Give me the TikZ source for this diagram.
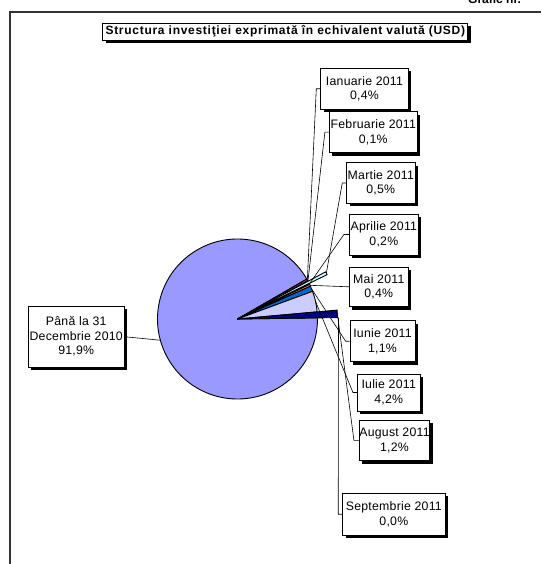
\documentclass[tikz,border=0pt]{standalone}
\usepackage{fontspec}
\setmainfont{Liberation Sans}
\usetikzlibrary{shadows,calc}
\definecolor{cbig}{HTML}{9999FF}
\definecolor{cian}{HTML}{993366}
\definecolor{cfeb}{HTML}{FFFFCC}
\definecolor{cmar}{HTML}{CCFFFF}
\definecolor{capr}{HTML}{660066}
\definecolor{cmai}{HTML}{FF8080}
\definecolor{ciun}{HTML}{0066CC}
\definecolor{ciul}{HTML}{CCCCFF}
\definecolor{caug}{HTML}{000080}
\definecolor{frame}{HTML}{333333}
\tikzset{
  lbl/.style={draw=black, line width=0.8pt, fill=white, inner sep=0pt, align=center,
    font=\fontsize{12.3}{14.5}\selectfont\addfontfeature{LetterSpace=2},
    drop shadow={fill=black, opacity=1, shadow xshift=3pt, shadow yshift=-3pt}},
  leader/.style={draw=black, line width=0.6pt},
  wedge/.style={draw=black, line width=0.9pt, line join=round}
}
\newcommand{\pieslice}[4]{%
  \filldraw[wedge, fill=#4] (c) -- ++(-#1:#3) arc[start angle=-#1, end angle=-#2, radius=#3] -- cycle;}
\begin{document}
\begin{tikzpicture}[x=1pt,y=-1pt]
\useasboundingbox (0,0) rectangle (541,564);
\fill[white] (0,0) rectangle (541,564);
% frame
\draw[frame, line width=1.3pt] (541,12) -- (10,12) -- (10,564);
\node[anchor=base west, font=\bfseries\fontsize{12}{14}\selectfont, inner sep=0pt] (gr) at (468,4) {Grafic nr.};
% title
\node[lbl, font=\bfseries\fontsize{12}{13}\selectfont\addfontfeature{LetterSpace=6}, minimum width=365pt, minimum height=17pt] (title) at (285.3,31.7) {Structura investiţiei exprimată în echivalent valută (USD)};
% pie
\coordinate (c) at (237.5,319);
\pieslice{29.96}{360.8}{80}{cbig}
\pieslice{28.52}{29.96}{80}{cian}
\pieslice{28.16}{28.52}{80}{cfeb}
\pieslice{26.36}{28.16}{100}{cmar}
\pieslice{25.64}{26.36}{80}{capr}
\pieslice{24.2}{25.64}{80}{cmai}
\pieslice{20.24}{24.2}{80}{ciun}
\pieslice{5.12}{20.24}{80}{ciul}
\pieslice{0.8}{5.12}{100}{caug}
% leader end points
\coordinate (pBig) at ($(c)+(-195.4:80)$);
\coordinate (pIan) at ($(c)+(-29.2:80)$);
\coordinate (pFeb) at ($(c)+(-28.3:80)$);
\coordinate (pMar) at ($(c)+(-27.3:100)$);
\coordinate (pApr) at ($(c)+(-26:80)$);
\coordinate (pMai) at ($(c)+(-24.9:80)$);
\coordinate (pIun) at ($(c)+(-22.2:80)$);
\coordinate (pIul) at ($(c)+(-12.7:80)$);
\coordinate (pAug) at ($(c)+(-3:100)$);
\coordinate (pSep) at ($(c)+(-0.8:101)$);
% labels
\node[lbl, minimum width=95.7pt, minimum height=61.3pt] (big) at (76.2,336.7) {Până la 31\\Decembrie 2010\\91,9\%};
\node[lbl, minimum width=87.6pt, minimum height=41pt] (ian) at (364.5,88.8) {Ianuarie 2011\\0,4\%};
\node[lbl, minimum width=88pt, minimum height=41pt] (feb) at (373.3,132.2) {Februarie 2011\\0,1\%};
\node[lbl, minimum width=68.3pt, minimum height=40.6pt] (mar) at (380.8,183) {Martie 2011\\0,5\%};
\node[lbl, minimum width=69pt, minimum height=41pt] (apr) at (383.8,234.5) {Aprilie 2011\\0,2\%};
\node[lbl, minimum width=59pt, minimum height=39.7pt] (mai) at (378.8,286.8) {Mai 2011\\0,4\%};
\node[lbl, minimum width=65pt, minimum height=41pt] (iun) at (382.5,341.2) {Iunie 2011\\1,1\%};
\node[lbl, minimum width=62.7pt, minimum height=37pt] (iul) at (388.7,392.5) {Iulie 2011\\4,2\%};
\node[lbl, minimum width=67.6pt, minimum height=40.7pt] (aug) at (394.5,440.3) {August 2011\\1,2\%};
\node[lbl, minimum width=102.3pt, minimum height=41.7pt] (sep) at (393.8,514.2) {Septembrie 2011\\0,0\%};
% leaders
\draw[leader] (big.east) -- (pBig);
\draw[leader] (ian.west) -- ++(-4,0) -- (pIan);
\draw[leader] (feb.west) -- ++(-4,0) -- (pFeb);
\draw[leader] (mar.west) -- ++(-4,0) -- (pMar);
\draw[leader] (apr.west) -- ++(-5,0) -- (pApr);
\draw[leader] (mai.west) -- (pMai);
\draw[leader] (iun.west) -- ++(-4,0) -- (pIun);
\draw[leader] (iul.west) -- ++(-4,0) -- (pIul);
\draw[leader] (aug.west) -- ++(-5,0) -- (pAug);
\draw[leader] (sep.west) -- ++(-4,0) -- (pSep);
\end{tikzpicture}
\end{document}
